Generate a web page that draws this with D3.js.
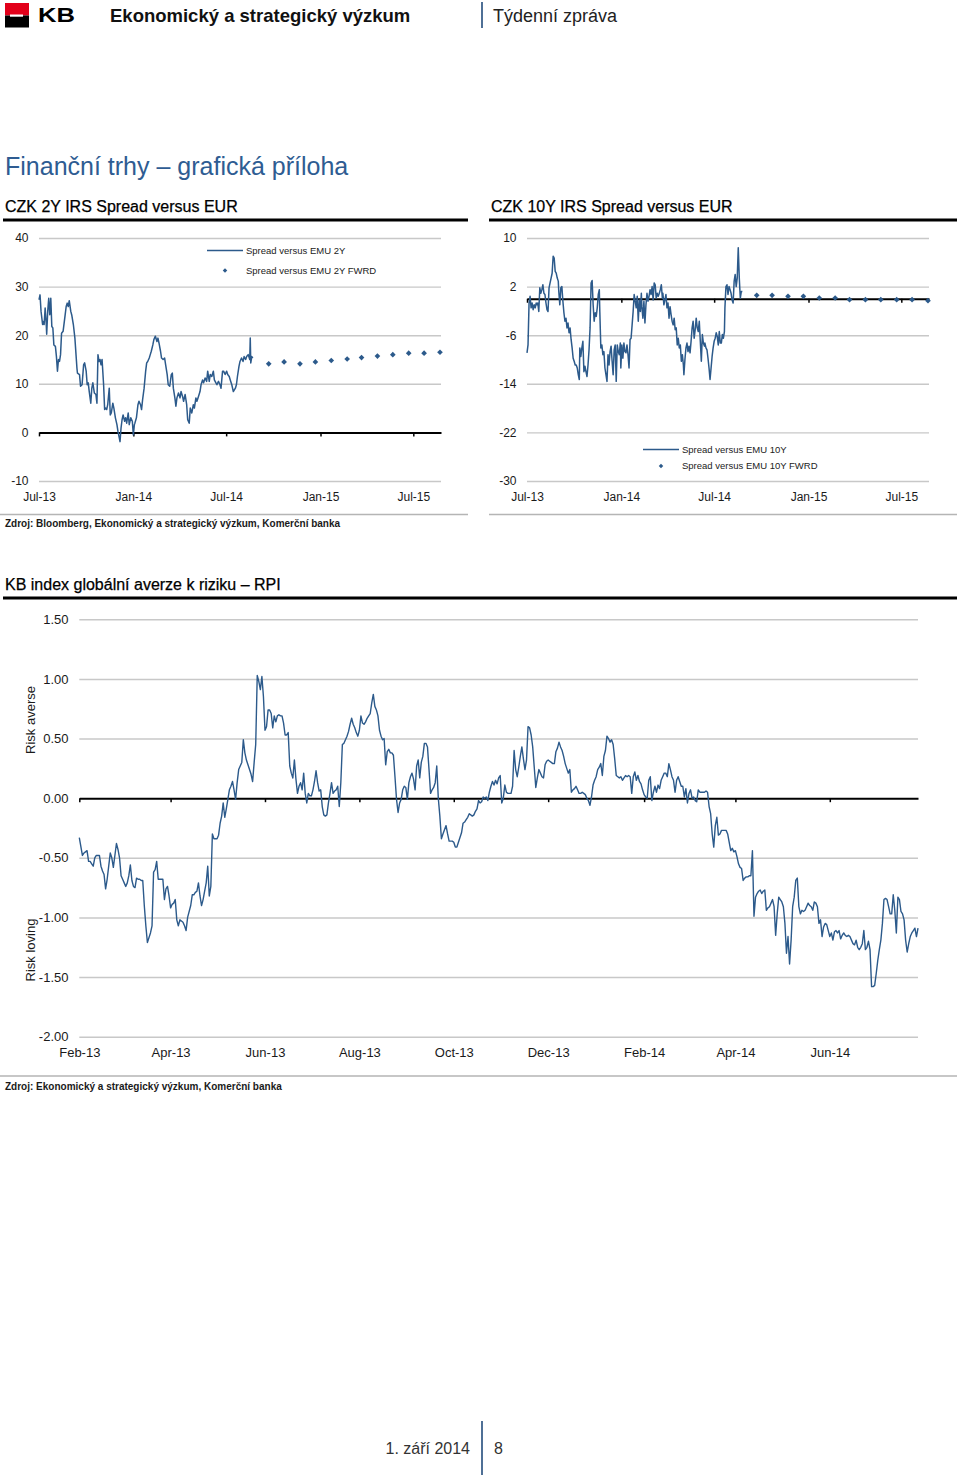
<!DOCTYPE html>
<html><head><meta charset="utf-8">
<script src="https://cdn.jsdelivr.net/npm/d3@7"></script>
<style>body{margin:0;background:#fff}svg{display:block}</style>
</head><body><svg id="page" width="960" height="1475"></svg>
<script>
// ---------------- DATA ----------------
// CZK 2Y / 10Y spread charts: x axis
const spreadAxisStart = "2013-07-01";
const spreadAxisEnd = "2015-08-24";
const spreadTickLabels = ["Jul-13", "Jan-14", "Jul-14", "Jan-15", "Jul-15"];
// daily series: day offsets since spreadAxisStart
const spread2yDays = [0,2,4,7,8,10,12,14,15,17,19,21,23,25,27,29,32,34,36,38,40,42,44,47,51,53,55,57,59,62,64,67,70,74,75,79,81,84,87,89,92,94,96,98,101,103,105,108,111,113,115,117,119,121,123,126,128,130,132,134,137,139,141,144,146,149,152,154,156,158,160,162,164,167,169,171,174,176,179,182,184,186,187,190,193,195,198,200,202,205,208,210,212,215,217,219,222,224,227,230,232,234,237,239,242,245,247,250,252,255,258,260,262,265,267,269,272,275,277,280,282,285,288,290,293,295,298,301,303,306,308,311,314,316,319,321,324,327,329,332,334,337,340,342,345,347,350,353,355,358,360,363,366,368,371,373,376,379,383,385,387,390,392,395,398,400,403,405,408,411,412,413,415,417];
const spread2yValues = [27.3,28.3,24.9,22.2,22.8,22.2,25.6,22.5,20.2,24.9,27.6,24.2,27.6,21.8,21.5,18.0,17.7,15.6,12.6,15.0,14.6,16.0,20.4,20.8,24.2,25.9,26.6,25.9,27.1,24.9,24.1,22.2,19.4,13.2,12.2,11.9,9.5,9.8,13.9,14.3,12.6,9.8,10.2,8.4,6.0,9.1,10.2,8.1,7.8,6.0,16.0,14.6,15.0,13.9,15.0,9.8,4.7,5.0,4.7,5.7,9.1,3.6,4.0,6.0,5.0,3.0,1.6,0.2,-0.8,-1.9,0.9,2.6,3.6,2.3,3.0,1.9,4.0,1.6,3.0,2.3,-0.5,1.6,1.9,3.0,5.7,6.4,5.7,4.7,6.7,9.1,12.6,14.3,14.6,15.3,16.0,16.7,18.0,19.1,19.8,18.7,19.4,18.4,16.7,15.3,15.0,15.3,13.9,11.9,9.8,9.5,11.9,12.2,9.1,7.1,5.4,7.1,8.1,7.1,8.4,7.4,6.4,7.8,5.7,2.6,1.9,5.0,4.0,5.7,5.0,7.1,6.4,7.4,8.4,9.8,10.8,10.2,11.2,10.5,12.6,10.5,11.9,11.5,12.6,10.8,10.2,9.8,10.5,9.8,9.1,12.6,12.6,11.9,12.6,11.9,11.5,10.8,9.8,8.4,9.1,9.8,11.5,13.6,14.6,15.3,14.6,15.6,15.0,15.6,16.0,15.0,19.4,14.3,15.6,15.3];
const fwdDates = ["2014-09-22","2014-10-22","2014-11-22","2014-12-22","2015-01-22","2015-02-22","2015-03-22","2015-04-22","2015-05-22","2015-06-22","2015-07-22","2015-08-22"];
const fwd2yValues = [14.1,14.5,14.1,14.5,14.8,15.1,15.4,15.7,16.0,16.3,16.3,16.5];

const spread10yDays = [0,2,4,6,8,10,12,14,16,18,20,21,23,25,27,29,31,33,35,37,39,41,43,45,47,49,51,53,55,57,59,61,62,64,66,68,70,72,74,76,78,80,82,84,86,88,90,92,94,96,98,100,102,103,105,107,109,111,113,115,117,119,121,123,125,127,129,131,133,135,137,139,141,142,144,146,148,150,152,154,156,158,160,162,164,166,168,170,172,174,176,178,180,182,183,185,187,189,191,193,195,197,199,201,203,205,207,209,211,213,215,217,219,221,223,224,226,228,230,232,234,236,238,240,242,244,246,248,250,252,254,256,258,260,262,264,265,267,269,271,273,275,277,279,281,283,285,287,289,291,293,295,297,299,301,303,305,306,308,310,312,314,316,318,320,322,324,326,328,330,332,334,336,338,340,342,344,346,347,349,351,353,355,357,359,361,363,365,367,369,371,373,375,377,379,381,383,385,386,388,390,392,394,396,398,400,402,404,406,408,410,412,414,416,418,420];
const spread10yValues = [-8.9,-7.6,-0.7,0.4,-1.5,-0.7,-1.8,-1.0,-1.5,-0.7,-1.0,-0.7,-2.1,1.8,0.9,1.5,2.3,0.9,0.7,-0.7,-1.8,-2.1,1.8,2.6,3.4,4.2,7.0,6.7,4.5,4.2,3.4,2.9,1.2,-1.0,1.8,2.0,-0.4,-2.3,-3.7,-3.2,-4.8,-4.0,-5.6,-4.8,-6.7,-8.1,-9.8,-10.3,-10.9,-10.9,-11.4,-12.5,-13.3,-8.1,-9.5,-8.1,-7.0,-12.0,-11.1,-12.0,-12.8,-10.9,-8.4,-4.8,2.6,3.0,-1.0,-3.7,-2.3,-2.9,-1.5,0.7,1.5,-2.1,-8.1,-7.6,-9.2,-8.7,-11.4,-12.5,-13.6,-9.2,-10.9,-8.7,-7.8,-10.3,-12.5,-8.4,-7.6,-13.6,-7.6,-8.7,-9.2,-7.3,-11.4,-7.6,-9.8,-7.3,-8.7,-8.9,-7.6,-9.2,-11.4,-6.7,-6.5,-4.3,-2.1,0.7,-0.4,-1.5,0.4,-3.7,-0.2,-2.1,0.9,-1.3,-3.2,-0.4,-4.0,-1.0,0.9,-0.4,0.4,1.5,0.7,2.0,-0.2,2.6,2.3,0.1,0.9,0.4,0.9,1.5,2.3,0.1,0.9,-1.0,-0.2,0.7,-1.5,-0.7,-3.2,-1.3,-2.6,-3.7,-4.3,-3.2,-5.1,-4.8,-7.6,-6.5,-8.1,-7.6,-10.3,-9.2,-10.9,-12.5,-10.0,-8.1,-7.3,-8.7,-7.8,-8.9,-7.0,-4.8,-3.7,-6.5,-5.1,-3.2,-4.8,-5.4,-3.7,-7.0,-10.3,-5.9,-7.3,-7.8,-7.3,-8.1,-8.4,-9.8,-11.4,-13.3,-11.4,-9.5,-8.1,-7.0,-6.5,-5.6,-6.2,-7.6,-5.4,-7.3,-7.3,-5.9,-6.5,-5.4,-1.5,2.0,2.3,0.7,2.0,1.5,0.9,-0.2,-0.7,2.9,4.0,2.0,3.4,8.4,3.4,0.1,1.2,1.2];
const fwd10yValues = [0.56,0.56,0.40,0.40,0.12,0.12,-0.15,-0.15,-0.15,-0.15,-0.15,-0.32];

const spread2yTicks = [40,30,20,10,0,-10];
const spread10yTicks = [10,2,-6,-14,-22,-30];

// RPI chart
const rpiAxisStart = "2013-02-01";
const rpiAxisEnd = "2014-07-28";
const rpiTickLabels = ["Feb-13","Apr-13","Jun-13","Aug-13","Oct-13","Dec-13","Feb-14","Apr-14","Jun-14"];
const rpiYTicks = [1.5,1.0,0.5,0.0,-0.5,-1.0,-1.5,-2.0];
// day offsets since rpiAxisStart
const rpiDays = [0,2,3,4,5,6,7,8,9,10,11,13,14,15,16,17,18,19,20,21,22,24,25,26,27,28,29,30,31,32,33,34,35,36,37,38,39,40,41,42,43,44,45,46,47,48,49,50,51,52,53,54,55,56,57,58,59,60,61,62,63,64,65,66,67,68,69,70,72,73,74,75,76,77,78,79,80,81,82,83,84,85,86,87,88,89,90,
91,92,93,94,95,96,97,98,99,100,101,102,103,104,105,106,107,108,109,110,111,112,113,114,115,116,117,118,119,120,121,122,123,124,125,126,127,128,129,130,131,132,133,134,135,136,137,138,139,140,141,142,143,144,145,146,147,148,149,150,151,152,153,154,155,156,157,158,159,160,161,162,163,164,165,166,167,168,169,170,171,172,173,174,175,176,177,178,179,180,181,182,183,184,185,186,187,188,189,190,191,192,193,194,195,196,197,198,199,200,201,202,203,204,205,206,207,208,209,210,211,212,213,214,215,216,217,218,219,220,221,222,223,224,225,226,227,228,229,230,231,232,233,234,235,237,238,239,241,242,243,244,245,246,247,248,249,250,251,252,
254,255,256,257,258,259,260,261,262,263,264,265,266,267,268,269,270,271,272,273,274,275,276,277,278,279,280,281,282,283,284,285,286,287,288,289,290,291,292,293,294,295,296,297,298,299,300,301,302,303,304,305,306,307,308,309,310,311,312,313,314,315,316,317,318,319,320,321,322,323,324,325,326,327,328,329,330,331,332,333,334,335,336,337,338,339,340,341,342,343,344,345,346,347,348,349,350,351,352,353,354,355,356,357,358,359,360,361,362,363,364,365,366,367,368,369,370,371,372,373,374,375,376,377,378,379,380,381,382,383,384,385,386,387,388,389,390,391,392,393,394,395,396,397,398,399,400,401,402,403,404,405,406,407,
408,409,410,411,412,413,414,415,416,417,418,419,420,421,422,423,424,425,426,427,428,429,430,431,432,433,434,435,436,437,438,439,440,441,442,443,444,445,446,447,448,449,450,451,452,453,454,455,456,457,458,459,460,461,462,463,464,465,466,467,468,469,470,471,472,473,474,475,476,477,478,479,480,481,482,483,484,485,486,487,488,489,490,491,492,493,494,495,496,497,498,499,500,501,502,503,504,505,506,507,508,509,510,511,512,513,514,515,516,517,518,519,520,521,522,523,524,525,526,527,528,529,530,531,532,533,534,535,536,537,538,539,540,541,542];
const rpiValues = [-0.33,-0.48,-0.46,-0.45,-0.44,-0.53,-0.53,-0.55,-0.57,-0.50,-0.48,-0.48,-0.57,-0.61,-0.64,-0.76,-0.68,-0.57,-0.46,-0.50,-0.58,-0.38,-0.43,-0.50,-0.65,-0.68,-0.71,-0.74,-0.71,-0.65,-0.56,-0.69,-0.74,-0.75,-0.67,-0.68,-0.68,-0.69,-0.69,-0.90,-1.07,-1.21,-1.17,-1.13,-1.07,-0.62,-0.60,-0.53,-0.68,-0.68,-0.68,-0.68,-0.85,-0.76,-0.74,-0.82,-0.92,-0.89,-0.88,-0.85,-1.02,-1.07,-1.02,-1.03,-1.04,-1.07,-1.11,-1.00,-0.90,-0.81,-0.81,-0.79,-0.78,-0.71,-0.82,-0.90,-0.85,-0.78,-0.71,-0.57,-0.82,-0.74,-0.30,-0.34,-0.34,-0.34,-0.31,
-0.21,-0.15,-0.04,-0.16,-0.09,-0.01,0.07,0.10,0.14,0.07,-0.01,0.13,0.24,0.27,0.30,0.49,0.38,0.32,0.28,0.24,0.20,0.14,0.30,0.45,1.03,0.98,0.91,1.02,0.85,0.57,0.60,0.74,0.74,0.71,0.59,0.69,0.64,0.69,0.70,0.69,0.69,0.63,0.53,0.53,0.55,0.27,0.21,0.17,0.32,0.16,0.04,0.10,0.13,0.07,0.21,0.04,-0.04,0.04,0.02,0.02,0.07,0.14,0.23,0.13,0.06,0.07,-0.07,-0.14,-0.15,-0.14,-0.04,0.04,0.13,0.04,0.06,0.07,0.10,-0.07,0.13,0.45,0.46,0.49,0.52,0.56,0.62,0.67,0.62,0.59,0.55,0.52,0.57,0.69,0.63,0.62,0.64,0.67,0.69,0.71,0.80,0.87,0.77,0.74,0.69,0.57,0.52,0.49,0.50,0.28,0.39,0.41,0.38,0.38,0.36,0.18,-0.01,-0.12,-0.04,-0.01,0.07,0.10,0.09,-0.01,0.13,0.18,0.21,0.16,0.07,0.27,0.32,0.17,0.30,0.35,0.46,0.46,0.43,0.24,0.04,0.07,0.09,0.13,0.27,0.00,-0.15,-0.34,-0.30,-0.23,-0.30,-0.36,-0.36,-0.37,-0.41,-0.41,-0.37,-0.33,-0.29,-0.21,-0.20,-0.18,-0.16,-0.13,
-0.15,-0.14,-0.11,-0.09,-0.02,-0.04,-0.03,0.01,0.00,0.01,-0.02,0.05,0.10,0.14,0.11,0.15,0.12,0.17,0.19,-0.04,0.00,0.11,0.05,0.04,0.04,0.04,0.10,0.40,0.24,0.18,0.26,0.35,0.43,0.33,0.24,0.32,0.60,0.59,0.53,0.43,0.26,0.09,0.17,0.24,0.21,0.18,0.17,0.28,0.31,0.32,0.31,0.30,0.29,0.29,0.39,0.42,0.47,0.43,0.40,0.35,0.29,0.25,0.21,0.24,0.05,0.07,0.08,0.10,0.07,0.04,0.04,0.05,0.04,0.03,0.00,-0.02,-0.06,0.01,0.11,0.15,0.18,0.24,0.26,0.29,0.19,0.35,0.40,0.52,0.50,0.47,0.49,0.45,0.33,0.19,0.18,0.17,0.18,0.15,0.17,0.19,0.18,0.19,0.18,0.04,0.18,0.22,0.15,0.19,0.14,0.12,0.07,0.03,0.01,0.00,0.15,0.18,-0.02,0.05,0.10,0.05,0.11,0.08,0.15,0.18,0.21,0.21,0.18,0.29,0.24,0.18,0.15,0.05,0.15,0.18,0.14,0.10,0.10,0.01,0.08,-0.04,0.04,0.07,0.00,0.01,-0.02,-0.03,0.07,0.05,0.05,0.05,0.05,0.06,0.05,-0.07,
-0.13,-0.30,-0.41,-0.23,-0.16,-0.31,-0.30,-0.27,-0.27,-0.27,-0.27,-0.30,-0.37,-0.44,-0.42,-0.45,-0.44,-0.49,-0.55,-0.58,-0.59,-0.69,-0.67,-0.66,-0.66,-0.65,-0.65,-0.44,-0.99,-0.83,-0.80,-0.78,-0.77,-0.80,-0.78,-0.77,-0.94,-0.92,-0.91,-0.88,-0.85,-0.91,-1.15,-0.97,-0.83,-0.85,-0.87,-0.91,-1.05,-1.30,-1.16,-1.39,-1.19,-0.91,-0.83,-0.69,-0.67,-0.91,-0.97,-0.94,-0.95,-0.94,-0.91,-0.88,-0.90,-0.91,-0.94,-0.87,-0.88,-0.91,-1.05,-1.02,-1.16,-1.08,-1.05,-1.06,-1.11,-1.16,-1.13,-1.19,-1.12,-1.11,-1.13,-1.11,-1.18,-1.15,-1.13,-1.15,-1.16,-1.15,-1.16,-1.19,-1.22,-1.23,-1.19,-1.25,-1.27,-1.25,-1.22,-1.11,-1.27,-1.25,-1.20,-1.27,-1.58,-1.58,-1.57,-1.47,-1.36,-1.27,-1.19,-1.05,-0.85,-0.84,-0.85,-0.91,-0.97,-0.97,-0.81,-0.94,-1.13,-0.83,-0.85,-0.95,-0.97,-1.02,-1.19,-1.29,-1.22,-1.16,-1.13,-1.11,-1.09,-1.16,-1.09];

// ---------------- DRAWING ----------------
const FONT = '"Liberation Sans", Arial, Helvetica, sans-serif';
const BLUE = '#2c5a8b';
const GRID = '#c8c8c8';
const svg = d3.select('#page').attr('font-family', FONT);
const parse = d3.utcParse('%Y-%m-%d');
const parseTick = d3.utcParse('%b-%y');
const fmtTick = d3.utcFormat('%b-%y');

// Header
svg.append('rect').attr('x', 5).attr('y', 3).attr('width', 24).attr('height', 12.5).attr('fill', '#e2001a');
svg.append('rect').attr('x', 5).attr('y', 15.5).attr('width', 24).attr('height', 12).attr('fill', '#000');
svg.append('rect').attr('x', 10).attr('y', 14.5).attr('width', 13).attr('height', 2.2).attr('fill', '#fff');
svg.append('text').attr('x', 38).attr('y', 22).attr('font-size', 20).attr('font-weight', 'bold')
  .attr('textLength', 37).attr('lengthAdjust', 'spacingAndGlyphs').text('KB');
svg.append('text').attr('x', 110).attr('y', 22).attr('font-size', 18.5).attr('font-weight', 'bold').attr('fill', '#111')
  .text('Ekonomický a strategický výzkum');
svg.append('line').attr('x1', 482).attr('x2', 482).attr('y1', 2).attr('y2', 28).attr('stroke', '#4f7096').attr('stroke-width', 2);
svg.append('text').attr('x', 493).attr('y', 22).attr('font-size', 18).attr('fill', '#222').text('Týdenní zpráva');

// Page title
svg.append('text').attr('x', 5).attr('y', 175).attr('font-size', 25).attr('fill', '#2e5c92')
  .text('Finanční trhy – grafická příloha');

function sectionTitle(x, y, w, txt) {
  svg.append('text').attr('x', x + 2).attr('y', y).attr('font-size', 16).attr('fill', '#000')
    .attr('stroke', '#000').attr('stroke-width', 0.25).text(txt);
  svg.append('line').attr('x1', x).attr('x2', x + w).attr('y1', y + 8).attr('y2', y + 8)
    .attr('stroke', '#000').attr('stroke-width', 3);
}
sectionTitle(3, 212, 465, 'CZK 2Y IRS Spread versus EUR');
sectionTitle(489, 212, 468, 'CZK 10Y IRS Spread versus EUR');

function styleAxisText(sel, size) {
  sel.attr('font-family', FONT).attr('font-size', size);
  sel.selectAll('text').attr('fill', '#1a1a1a');
}

function spreadChart(o) {
  const x = d3.scaleUtc().domain([parse(spreadAxisStart), parse(spreadAxisEnd)]).range([o.x0, o.x1]);
  const y = d3.scaleLinear().domain([o.ticks[o.ticks.length - 1], o.ticks[0]]).range([481, 238]);
  const xTicks = spreadTickLabels.map(parseTick);
  const g = svg.append('g');
  // gridlines
  g.append('g').attr('transform', `translate(${o.x0},0)`)
    .call(d3.axisLeft(y).tickValues(o.ticks.filter(t => t !== 0)).tickSize(-(o.x1 - o.x0)).tickFormat(''))
    .call(a => a.select('.domain').remove())
    .call(a => a.selectAll('line').attr('stroke', GRID).attr('stroke-width', 1.4));
  // y labels
  g.append('g').attr('transform', `translate(${o.labelX},0)`)
    .call(d3.axisLeft(y).tickValues(o.ticks).tickSize(0).tickPadding(0).tickFormat(d => String(d)))
    .call(a => a.select('.domain').remove())
    .call(a => styleAxisText(a, 12));
  // zero axis with ticks
  g.append('g').attr('transform', `translate(0,${y(0)})`)
    .call(d3.axisBottom(x).tickValues(xTicks).tickSize(4).tickSizeOuter(0).tickFormat(''))
    .call(a => a.select('.domain').attr('stroke', '#000').attr('stroke-width', 2))
    .call(a => a.selectAll('.tick line').attr('stroke', '#000').attr('stroke-width', 1.5));
  // x labels at bottom
  g.append('g').attr('transform', 'translate(0,492)')
    .call(d3.axisBottom(x).tickValues(xTicks).tickSize(0).tickPadding(0).tickFormat(fmtTick))
    .call(a => a.select('.domain').remove())
    .call(a => styleAxisText(a, 12));
  // series
  const base = parse(spreadAxisStart);
  const pts = d3.zip(o.days, o.values).map(([d, v]) => ({date: d3.utcDay.offset(base, d), v}));
  g.append('path').datum(pts).attr('fill', 'none').attr('stroke', BLUE).attr('stroke-width', 1.5)
    .attr('stroke-linejoin', 'round')
    .attr('d', d3.line().x(d => x(d.date)).y(d => y(d.v)));
  const fwd = d3.zip(fwdDates, o.fwd).map(([d, v]) => ({date: parse(d), v}));
  const diamond = d3.symbol().type(d3.symbolSquare).size(16);
  g.selectAll('path.fwd').data(fwd).join('path').attr('class', 'fwd')
    .attr('d', diamond).attr('fill', BLUE)
    .attr('transform', d => `translate(${x(d.date)},${y(d.v)}) rotate(45)`);
  // legend
  const L = o.legend;
  g.append('line').attr('x1', L.x).attr('x2', L.x + 36).attr('y1', L.y1).attr('y2', L.y1)
    .attr('stroke', BLUE).attr('stroke-width', 1.5);
  g.append('path').attr('d', d3.symbol().type(d3.symbolSquare).size(10)).attr('fill', BLUE)
    .attr('transform', `translate(${L.x + 18},${L.y2}) rotate(45)`);
  g.append('text').attr('x', L.x + 39).attr('y', L.y1).attr('dy', '0.35em').attr('font-size', 9.5).attr('fill', '#222').text(L.t1);
  g.append('text').attr('x', L.x + 39).attr('y', L.y2).attr('dy', '0.35em').attr('font-size', 9.5).attr('fill', '#222').text(L.t2);
}

spreadChart({x0: 39, x1: 441, labelX: 28.5, ticks: spread2yTicks, days: spread2yDays, values: spread2yValues,
  fwd: fwd2yValues, legend: {x: 207, y1: 250.5, y2: 270.5, t1: 'Spread versus EMU 2Y', t2: 'Spread versus EMU 2Y FWRD'}});
spreadChart({x0: 527, x1: 929, labelX: 516.5, ticks: spread10yTicks, days: spread10yDays, values: spread10yValues,
  fwd: fwd10yValues, legend: {x: 643, y1: 449.5, y2: 466, t1: 'Spread versus EMU 10Y', t2: 'Spread versus EMU 10Y FWRD'}});

// rules + sources
function rule(x1, x2, y) {
  svg.append('line').attr('x1', x1).attr('x2', x2).attr('y1', y).attr('y2', y).attr('stroke', '#b5b5b5').attr('stroke-width', 1.5);
}
rule(0, 468, 514.5);
rule(489, 957, 514.5);
svg.append('text').attr('x', 5).attr('y', 527).attr('font-size', 10).attr('font-weight', 'bold').attr('fill', '#1a1a1a')
  .text('Zdroj: Bloomberg, Ekonomický a strategický výzkum, Komerční banka');

// RPI chart
sectionTitle(3, 590, 954, 'KB index globální averze k riziku – RPI');
(function rpiChart() {
  const x0 = 79.3, x1 = 918;
  const x = d3.scaleUtc().domain([parse(rpiAxisStart), parse(rpiAxisEnd)]).range([x0, x1]);
  const y = d3.scaleLinear().domain([-2, 1.5]).range([1036.7, 619.3]);
  const xTicks = rpiTickLabels.map(parseTick);
  const g = svg.append('g');
  g.append('g').attr('transform', `translate(${x0},0)`)
    .call(d3.axisLeft(y).tickValues(rpiYTicks.filter(t => t !== 0)).tickSize(-(x1 - x0)).tickFormat(''))
    .call(a => a.select('.domain').remove())
    .call(a => a.selectAll('line').attr('stroke', GRID).attr('stroke-width', 1.4));
  g.append('g').attr('transform', 'translate(68.5,0)')
    .call(d3.axisLeft(y).tickValues(rpiYTicks).tickSize(0).tickPadding(0).tickFormat(d => d.toFixed(2)))
    .call(a => a.select('.domain').remove())
    .call(a => styleAxisText(a, 13));
  g.append('g').attr('transform', `translate(0,${y(0)})`)
    .call(d3.axisBottom(x).tickValues(xTicks).tickSize(4).tickSizeOuter(0).tickFormat(''))
    .call(a => a.select('.domain').attr('stroke', '#000').attr('stroke-width', 2))
    .call(a => a.selectAll('.tick line').attr('stroke', '#000').attr('stroke-width', 1.5));
  g.append('g').attr('transform', 'translate(0,1047.5)')
    .call(d3.axisBottom(x).tickValues(xTicks).tickSize(0).tickPadding(0).tickFormat(fmtTick))
    .call(a => a.select('.domain').remove())
    .call(a => styleAxisText(a, 13));
  const base = parse(rpiAxisStart);
  const pts = d3.zip(rpiDays, rpiValues).map(([d, v]) => ({date: d3.utcDay.offset(base, d), v}));
  g.append('path').datum(pts).attr('fill', 'none').attr('stroke', BLUE).attr('stroke-width', 1.4)
    .attr('stroke-linejoin', 'round')
    .attr('d', d3.line().x(d => x(d.date)).y(d => y(d.v)));
  g.append('text').attr('transform', 'translate(30,720) rotate(-90)').attr('text-anchor', 'middle')
    .attr('dy', '0.35em').attr('font-size', 13).attr('fill', '#1a1a1a').text('Risk averse');
  g.append('text').attr('transform', 'translate(30,950) rotate(-90)').attr('text-anchor', 'middle')
    .attr('dy', '0.35em').attr('font-size', 13).attr('fill', '#1a1a1a').text('Risk loving');
})();
rule(0, 957, 1076);
svg.append('text').attr('x', 5).attr('y', 1090).attr('font-size', 10).attr('font-weight', 'bold').attr('fill', '#1a1a1a')
  .text('Zdroj: Ekonomický a strategický výzkum, Komerční banka');

// Footer
svg.append('text').attr('x', 470).attr('y', 1454).attr('text-anchor', 'end').attr('font-size', 16).attr('fill', '#333').text('1. září 2014');
svg.append('line').attr('x1', 482).attr('x2', 482).attr('y1', 1421).attr('y2', 1475).attr('stroke', '#4f7096').attr('stroke-width', 2);
svg.append('text').attr('x', 494).attr('y', 1454).attr('font-size', 16).attr('fill', '#333').text('8');
</script></body></html>
